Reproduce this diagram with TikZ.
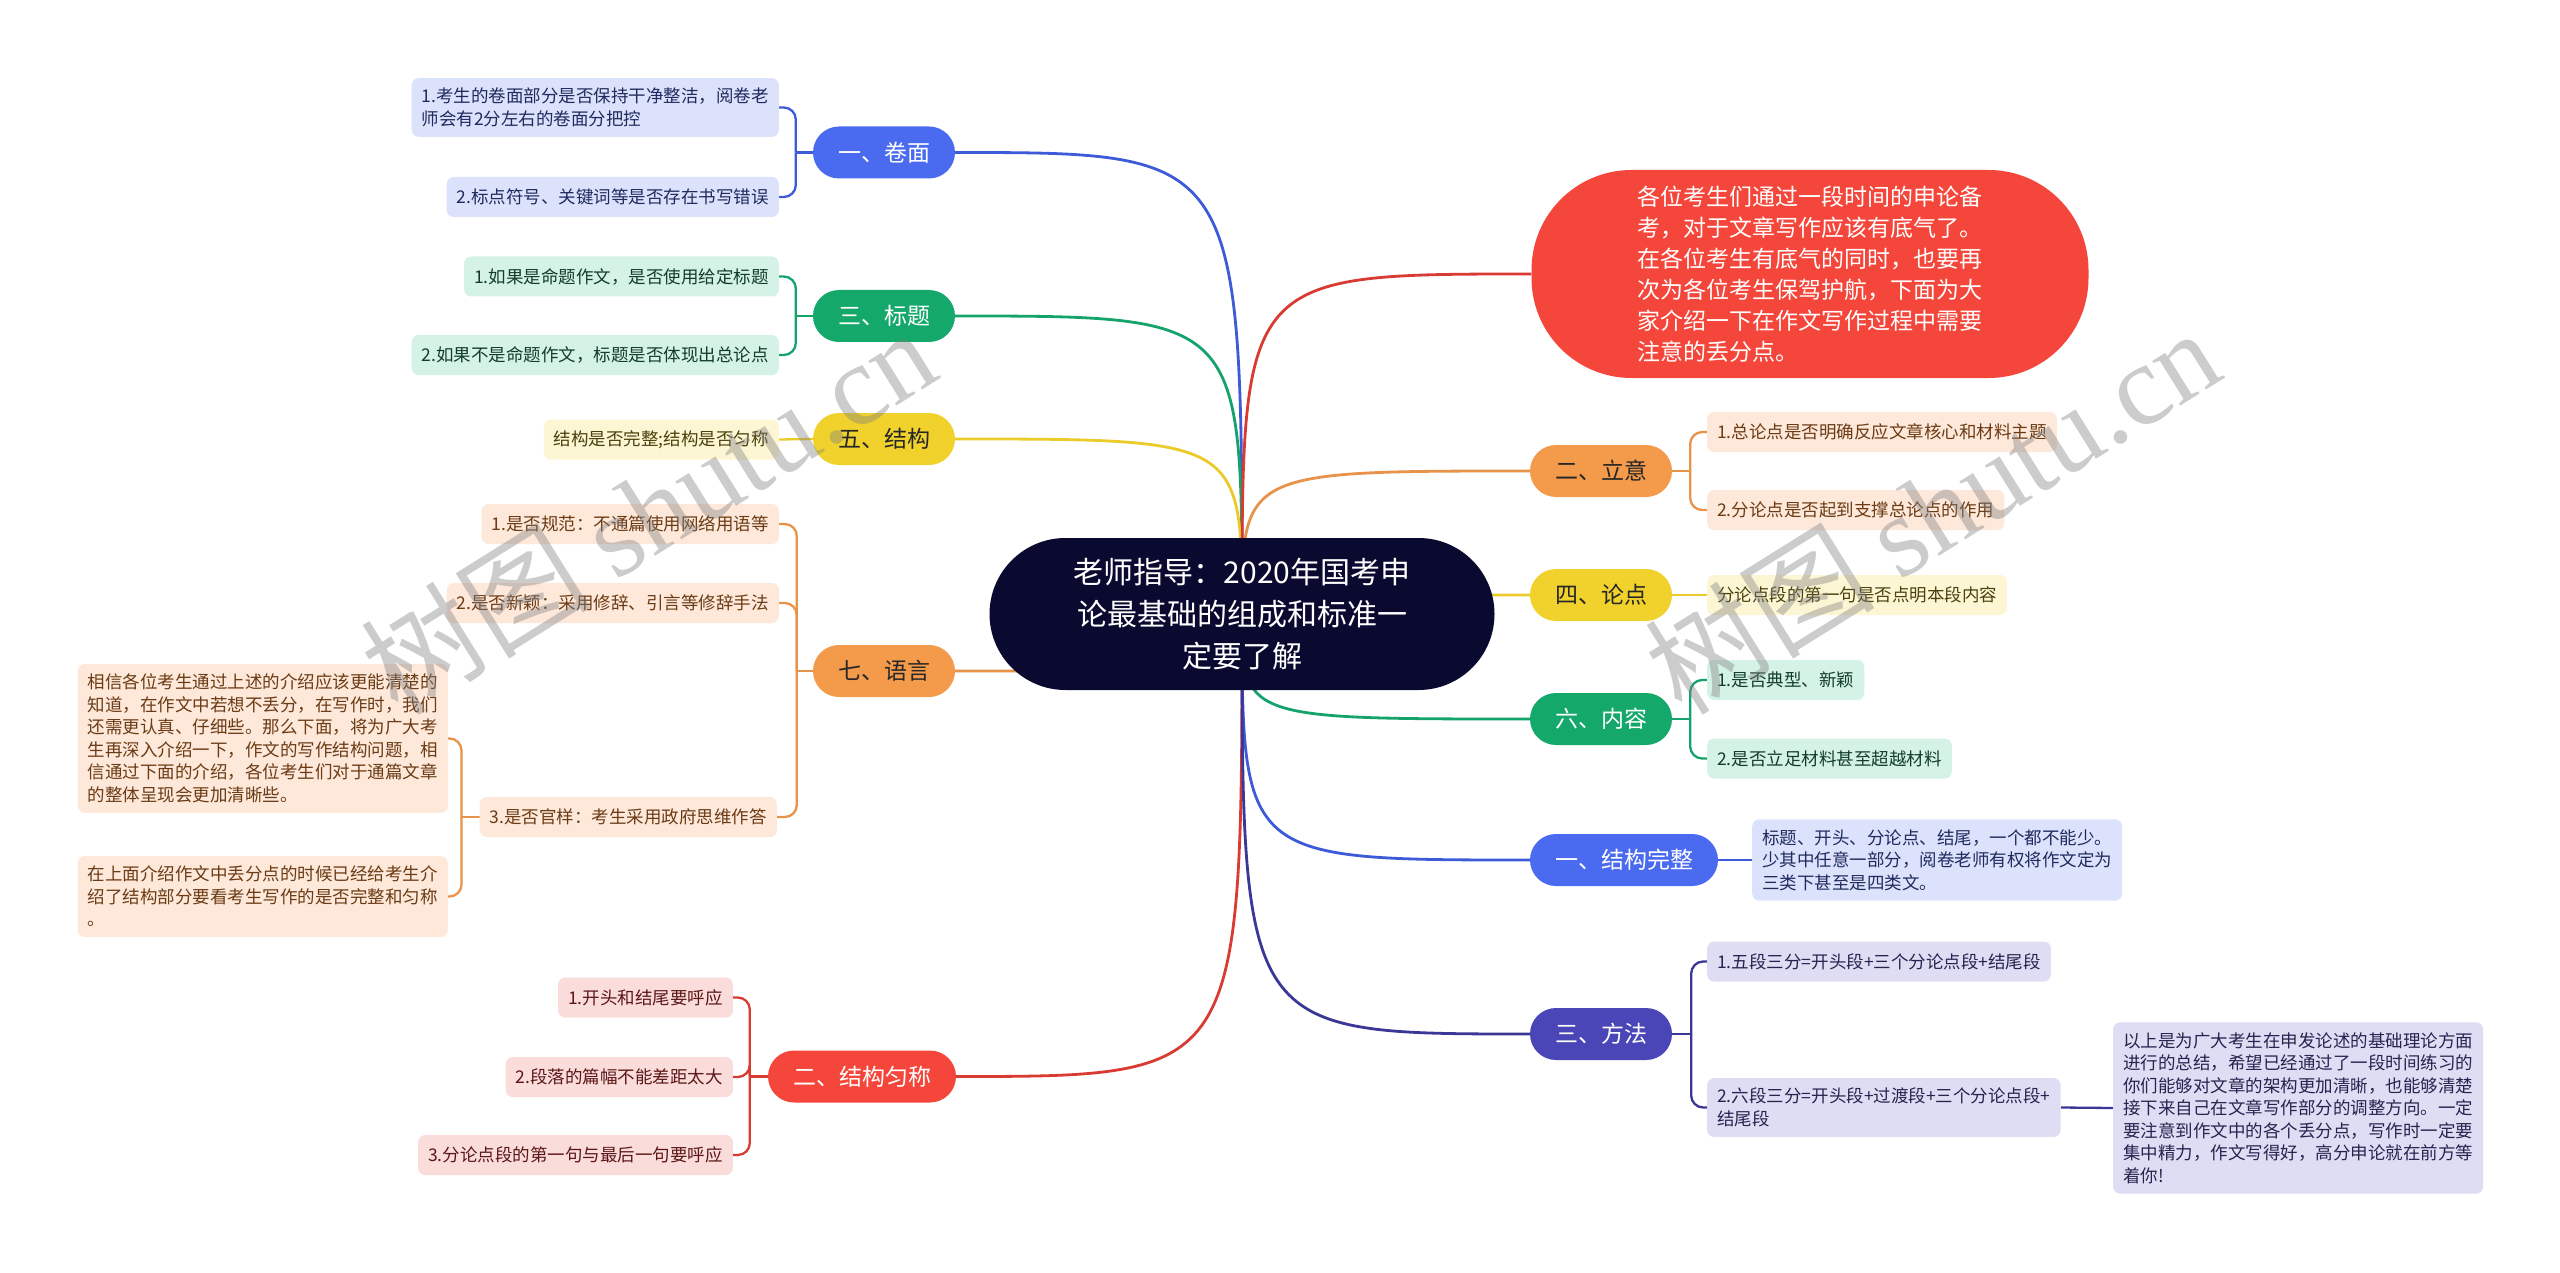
\documentclass[tikz,border=0pt]{standalone}
\usepackage{fontspec}
\setmainfont{Noto Sans CJK SC}
\newfontfamily\wmfont{Liberation Serif}
\usetikzlibrary{backgrounds,calc}
\definecolor{cblue}{HTML}{4A6BEF}
\definecolor{lblue}{HTML}{3D5AD8}
\definecolor{fblue}{HTML}{DCE2FB}
\definecolor{tblue}{HTML}{1F2B5E}
\definecolor{cgreen}{HTML}{14A86A}
\definecolor{lgreen}{HTML}{14A36A}
\definecolor{fgreen}{HTML}{D4F2E5}
\definecolor{tgreen}{HTML}{123D2A}
\definecolor{cyellow}{HTML}{F1D22C}
\definecolor{lyellow}{HTML}{EACB2A}
\definecolor{fyellow}{HTML}{FCF6D4}
\definecolor{tyellow}{HTML}{4A400C}
\definecolor{corange}{HTML}{F49A4B}
\definecolor{lorange}{HTML}{E8934A}
\definecolor{forange}{HTML}{FDE8DA}
\definecolor{torange}{HTML}{6B3B14}
\definecolor{cred}{HTML}{F4463B}
\definecolor{lred}{HTML}{D93B32}
\definecolor{fred}{HTML}{FADCDB}
\definecolor{tred}{HTML}{5C1616}
\definecolor{cind}{HTML}{4A46B8}
\definecolor{lind}{HTML}{3B3796}
\definecolor{find}{HTML}{DFDDF4}
\definecolor{tind}{HTML}{26244F}
\definecolor{croot}{HTML}{0A0A30}
\newcommand\mypillfont{\fontsize{23pt}{27pt}\selectfont}
\newcommand\myleaffont{\fontsize{17.5pt}{22.5pt}\selectfont}
\tikzset{
  pill/.style={rounded corners=26pt, minimum height=52pt, inner xsep=25pt, inner ysep=0pt, font=\mypillfont},
  leaf/.style={rounded corners=7pt, inner xsep=10pt, inner ysep=10pt, align=left, minimum height=40pt, font=\myleaffont},
  branch/.style={line width=2.8pt},
  brk/.style={line width=2.3pt, rounded corners=12pt},
  wmark/.style={rotate=32, text=gray, opacity=0.4, font=\fontsize{115pt}{115pt}\selectfont},
}
\begin{document}
\begin{tikzpicture}[x=1pt,y=-1pt]
\useasboundingbox (0,0) rectangle (2560,1273);
% root
\node[fill=croot, text=white, rounded corners=76pt, minimum width=505pt, minimum height=152pt, align=center, font=\fontsize{30pt}{42pt}\selectfont] (c) at (1242,614) {老师指导：2020年国考申\\论最基础的组成和标准一\\定要了解};
% intro bubble
\node[fill=cred, text=white, rounded corners=100pt, minimum width=557pt, minimum height=208pt, align=left, font=\fontsize{23pt}{31pt}\selectfont] (intro) at (1810,274) {各位考生们通过一段时间的申论备\\考，对于文章写作应该有底气了。\\在各位考生有底气的同时，也要再\\次为各位考生保驾护航，下面为大\\家介绍一下在作文写作过程中需要\\注意的丢分点。};
% left pills
\node[pill, fill=cblue, text=white] (p1) at (884,152.5) {一、卷面};
\node[pill, fill=cgreen, text=white] (p3) at (884,316) {三、标题};
\node[pill, fill=cyellow, text=black!85] (p5) at (884,439) {五、结构};
\node[pill, fill=corange, text=black!85] (p7) at (884,671) {七、语言};
\node[pill, fill=cred, text=white] (p2) at (862,1076.5) {二、结构匀称};
% right pills
\node[pill, fill=corange, text=black!85] (r2) at (1601,471) {二、立意};
\node[pill, fill=cyellow, text=black!85] (r4) at (1601,595) {四、论点};
\node[pill, fill=cgreen, text=white] (r6) at (1601,719) {六、内容};
\node[pill, fill=cblue, text=white] (r1) at (1624,860) {一、结构完整};
\node[pill, fill=cind, text=white] (r3) at (1601,1034) {三、方法};
% left leaves
\node[leaf, fill=fblue, text=tblue, anchor=east] (l11) at (779,107.5) {1.考生的卷面部分是否保持干净整洁，阅卷老\\师会有2分左右的卷面分把控};
\node[leaf, fill=fblue, text=tblue, anchor=east] (l12) at (779,197) {2.标点符号、关键词等是否存在书写错误};
\node[leaf, fill=fgreen, text=tgreen, anchor=east] (l31) at (779,276.5) {1.如果是命题作文，是否使用给定标题};
\node[leaf, fill=fgreen, text=tgreen, anchor=east] (l32) at (779,355) {2.如果不是命题作文，标题是否体现出总论点};
\node[leaf, fill=fyellow, text=tyellow, anchor=east] (l51) at (779,439.5) {结构是否完整;结构是否匀称};
\node[leaf, fill=forange, text=torange, anchor=east] (l71) at (779,524) {1.是否规范：不通篇使用网络用语等};
\node[leaf, fill=forange, text=torange, anchor=east] (l72) at (779,603) {2.是否新颖：采用修辞、引言等修辞手法};
\node[leaf, fill=forange, text=torange, anchor=east] (l73) at (777,817) {3.是否官样：考生采用政府思维作答};
\node[leaf, fill=forange, text=torange, anchor=east] (la) at (448,738.5) {相信各位考生通过上述的介绍应该更能清楚的\\知道，在作文中若想不丢分，在写作时，我们\\还需更认真、仔细些。那么下面，将为广大考\\生再深入介绍一下，作文的写作结构问题，相\\信通过下面的介绍，各位考生们对于通篇文章\\的整体呈现会更加清晰些。};
\node[leaf, fill=forange, text=torange, anchor=east] (lb) at (448,896.5) {在上面介绍作文中丢分点的时候已经给考生介\\绍了结构部分要看考生写作的是否完整和匀称\\。};
\node[leaf, fill=fred, text=tred, anchor=east] (s1) at (733,997.5) {1.开头和结尾要呼应};
\node[leaf, fill=fred, text=tred, anchor=east] (s2) at (733,1077) {2.段落的篇幅不能差距太大};
\node[leaf, fill=fred, text=tred, anchor=east] (s3) at (733,1155) {3.分论点段的第一句与最后一句要呼应};
% right leaves
\node[leaf, fill=forange, text=torange, anchor=west] (q21) at (1707,432) {1.总论点是否明确反应文章核心和材料主题};
\node[leaf, fill=forange, text=torange, anchor=west] (q22) at (1707,510) {2.分论点是否起到支撑总论点的作用};
\node[leaf, fill=fyellow, text=tyellow, anchor=west] (q41) at (1707,595) {分论点段的第一句是否点明本段内容};
\node[leaf, fill=fgreen, text=tgreen, anchor=west] (q61) at (1707,680) {1.是否典型、新颖};
\node[leaf, fill=fgreen, text=tgreen, anchor=west] (q62) at (1707,758.5) {2.是否立足材料甚至超越材料};
\node[leaf, fill=fblue, text=tblue, anchor=west] (q11) at (1752,860) {标题、开头、分论点、结尾，一个都不能少。\\少其中任意一部分，阅卷老师有权将作文定为\\三类下甚至是四类文。};
\node[leaf, fill=find, text=tind, anchor=west] (q31) at (1707,961.5) {1.五段三分=开头段+三个分论点段+结尾段};
\node[leaf, fill=find, text=tind, anchor=west] (q32) at (1707,1107.5) {2.六段三分=开头段+过渡段+三个分论点段+\\结尾段};
\node[leaf, fill=find, text=tind, anchor=west] (far) at (2113,1108) {以上是为广大考生在申发论述的基础理论方面\\进行的总结，希望已经通过了一段时间练习的\\你们能够对文章的架构更加清晰，也能够清楚\\接下来自己在文章写作部分的调整方向。一定\\要注意到作文中的各个丢分点，写作时一定要\\集中精力，作文写得好，高分申论就在前方等\\着你!};
% bracket junctions
\coordinate (b1) at ([xshift=-17pt]p1.west);
\coordinate (b3) at ([xshift=-17pt]p3.west);
\coordinate (b7) at ([xshift=-16pt]p7.west);
\coordinate (bl) at ([xshift=-18pt]l73.west);
\coordinate (b2) at ([xshift=-18pt]p2.west);
\coordinate (c2) at ([xshift=18pt]r2.east);
\coordinate (c6) at ([xshift=18pt]r6.east);
\coordinate (c3) at ([xshift=19pt]r3.east);
\begin{scope}[on background layer]
\fill[white] (0,0) rectangle (2560,1273);
% main branches
\draw[branch, lblue] (c.center) .. controls (c.center |- p1.east) .. (p1.east);
\draw[branch, lgreen] (c.center) .. controls (c.center |- p3.east) .. (p3.east);
\draw[branch, lyellow] (c.center) .. controls (c.center |- p5.east) .. (p5.east);
\draw[branch, lorange] (c.center) .. controls (c.center |- p7.east) .. (p7.east);
\draw[branch, lred] (c.center) .. controls (c.center |- p2.east) .. (p2.east);
\draw[branch, lred] (c.center) .. controls (c.center |- intro.west) .. (intro.west);
\draw[branch, lorange] (c.center) .. controls (c.center |- r2.west) .. (r2.west);
\draw[branch, lyellow] (c.center) .. controls (c.center |- r4.west) .. (r4.west);
\draw[branch, lgreen] (c.center) .. controls (c.center |- r6.west) .. (r6.west);
\draw[branch, lblue] (c.center) .. controls (c.center |- r1.west) .. (r1.west);
\draw[branch, lind] (c.center) .. controls (c.center |- r3.west) .. (r3.west);
% brackets left
\draw[brk, lblue] (p1.west) -- (b1);
\draw[brk, lblue] (b1) |- (l11.east);
\draw[brk, lblue] (b1) |- (l12.east);
\draw[brk, lgreen] (p3.west) -- (b3);
\draw[brk, lgreen] (b3) |- (l31.east);
\draw[brk, lgreen] (b3) |- (l32.east);
\draw[brk, lyellow] (p5.west) -- (l51.east);
\draw[brk, lorange] (p7.west) -- (b7);
\draw[brk, lorange] (b7) |- (l71.east);
\draw[brk, lorange] (b7) |- (l72.east);
\draw[brk, lorange] (b7) |- (l73.east);
\draw[brk, lorange] (l73.west) -- (bl);
\draw[brk, lorange] (bl) |- (la.east);
\draw[brk, lorange] (bl) |- (lb.east);
\draw[brk, lred] (p2.west) -- (b2);
\draw[brk, lred] (b2) |- (s1.east);
\draw[brk, lred] (b2) |- (s2.east);
\draw[brk, lred] (b2) |- (s3.east);
% brackets right
\draw[brk, lorange] (r2.east) -- (c2);
\draw[brk, lorange] (c2) |- (q21.west);
\draw[brk, lorange] (c2) |- (q22.west);
\draw[brk, lyellow] (r4.east) -- (q41.west);
\draw[brk, lgreen] (r6.east) -- (c6);
\draw[brk, lgreen] (c6) |- (q61.west);
\draw[brk, lgreen] (c6) |- (q62.west);
\draw[brk, lblue] (r1.east) -- (q11.west);
\draw[brk, lind] (r3.east) -- (c3);
\draw[brk, lind] (c3) |- (q31.west);
\draw[brk, lind] (c3) |- (q32.west);
\draw[brk, lind] (q32.east) -- (far.west);
\end{scope}
% watermarks
\node[wmark] (wm1) at (648,510) {树图 {\wmfont shutu.cn}};
\node[wmark] (wm2) at (1932,510) {树图 {\wmfont shutu.cn}};
\end{tikzpicture}
\end{document}
